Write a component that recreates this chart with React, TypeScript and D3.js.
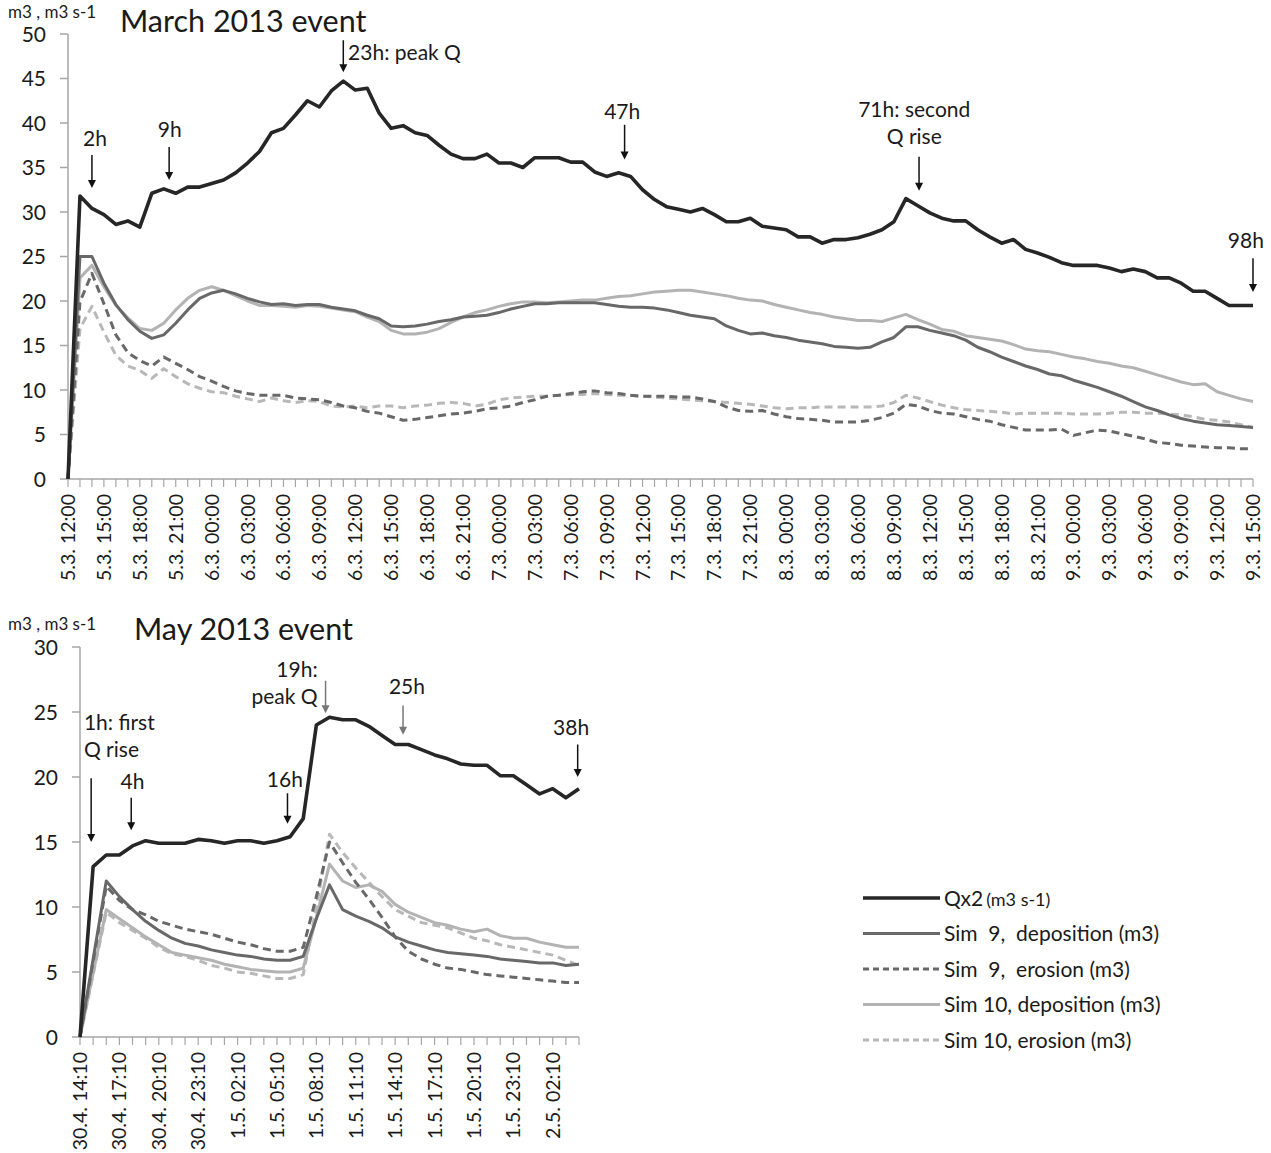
import * as d3 from "d3";

// ---- March 2013 event (hourly, 5.3. 12:00 -> 9.3. 15:00) ----
const marchLabels = [
  "5.3. 12:00", "5.3. 15:00", "5.3. 18:00", "5.3. 21:00",
  "6.3. 00:00", "6.3. 03:00", "6.3. 06:00", "6.3. 09:00", "6.3. 12:00", "6.3. 15:00", "6.3. 18:00", "6.3. 21:00",
  "7.3. 00:00", "7.3. 03:00", "7.3. 06:00", "7.3. 09:00", "7.3. 12:00", "7.3. 15:00", "7.3. 18:00", "7.3. 21:00",
  "8.3. 00:00", "8.3. 03:00", "8.3. 06:00", "8.3. 09:00", "8.3. 12:00", "8.3. 15:00", "8.3. 18:00", "8.3. 21:00",
  "9.3. 00:00", "9.3. 03:00", "9.3. 06:00", "9.3. 09:00", "9.3. 12:00", "9.3. 15:00",
];

const marchQ = [
  0, 31.8, 30.4, 29.7, 28.6, 29.0, 28.3, 32.1, 32.6, 32.1,
  32.8, 32.8, 33.2, 33.6, 34.4, 35.5, 36.8, 38.9, 39.4, 40.9,
  42.5, 41.8, 43.6, 44.7, 43.7, 43.9, 41.1, 39.4, 39.7, 38.9,
  38.6, 37.5, 36.5, 36.0, 36.0, 36.5, 35.5, 35.5, 35.0, 36.1,
  36.1, 36.1, 35.6, 35.6, 34.5, 34.0, 34.4, 34.0, 32.5, 31.4,
  30.6, 30.3, 30.0, 30.4, 29.7, 28.9, 28.9, 29.3, 28.4, 28.2,
  28.0, 27.2, 27.2, 26.5, 26.9, 26.9, 27.1, 27.5, 28.0, 28.9,
  31.5, 30.7, 29.9, 29.3, 29.0, 29.0, 28.0, 27.2, 26.5, 26.9,
  25.8, 25.4, 24.9, 24.3, 24.0, 24.0, 24.0, 23.7, 23.3, 23.6,
  23.3, 22.6, 22.6, 22.0, 21.1, 21.1, 20.3, 19.5, 19.5, 19.5,
];

const marchSim9Dep = [
  0, 25, 25, 22, 19.6, 17.9, 16.6, 15.8, 16.2, 17.5,
  19.0, 20.3, 20.9, 21.2, 20.8, 20.3, 19.9, 19.6, 19.7, 19.5,
  19.6, 19.6, 19.3, 19.1, 18.9, 18.4, 18.0, 17.2, 17.1, 17.2,
  17.4, 17.7, 17.9, 18.2, 18.3, 18.4, 18.7, 19.1, 19.4, 19.7,
  19.7, 19.8, 19.8, 19.8, 19.8, 19.6, 19.4, 19.3, 19.3, 19.2,
  19.0, 18.7, 18.4, 18.2, 18.0, 17.2, 16.7, 16.3, 16.4, 16.1,
  15.9, 15.6, 15.4, 15.2, 14.9, 14.8, 14.7, 14.8, 15.4, 15.9,
  17.1, 17.1, 16.7, 16.4, 16.1, 15.6, 14.8, 14.3, 13.7, 13.2,
  12.7, 12.3, 11.8, 11.6, 11.1, 10.7, 10.3, 9.8, 9.3, 8.7,
  8.1, 7.7, 7.2, 6.8, 6.5, 6.3, 6.1, 6.0, 5.9, 5.8,
];

const marchSim9Ero = [
  0, 19.9, 23.1, 19.7, 16.2, 14.2, 13.3, 12.7, 13.7, 13.0,
  12.3, 11.5, 11.0, 10.4, 9.9, 9.6, 9.4, 9.4, 9.4, 9.1,
  9.0, 8.9, 8.6, 8.2, 8.0, 7.6, 7.4, 7.0, 6.6, 6.7,
  6.9, 7.1, 7.3, 7.4, 7.6, 7.9, 8.0, 8.2, 8.6, 8.9,
  9.3, 9.4, 9.6, 9.8, 9.9, 9.7, 9.6, 9.4, 9.3, 9.3,
  9.3, 9.2, 9.2, 9.0, 8.7, 8.1, 7.7, 7.6, 7.7, 7.3,
  7.0, 6.8, 6.7, 6.6, 6.4, 6.4, 6.4, 6.6, 6.9, 7.4,
  8.4, 8.2, 7.7, 7.4, 7.3, 7.0, 6.7, 6.5, 6.1, 5.8,
  5.5, 5.5, 5.5, 5.6, 4.9, 5.2, 5.5, 5.4, 5.1, 4.8,
  4.5, 4.1, 4.0, 3.8, 3.7, 3.6, 3.5, 3.5, 3.4, 3.4,
];

const marchSim10Dep = [
  0, 22.6, 24.0, 21.6, 19.5, 18.1, 16.9, 16.7, 17.5, 19.0,
  20.3, 21.2, 21.6, 21.2, 20.6, 20.0, 19.5, 19.5, 19.4, 19.3,
  19.5, 19.4, 19.2, 19.0, 18.8, 18.2, 17.7, 16.7, 16.3, 16.3,
  16.5, 16.9, 17.6, 18.2, 18.7, 19.0, 19.4, 19.7, 19.9, 19.9,
  19.8, 19.9, 20.0, 20.1, 20.1, 20.3, 20.5, 20.6, 20.8, 21.0,
  21.1, 21.2, 21.2, 21.0, 20.8, 20.6, 20.3, 20.1, 20.0, 19.6,
  19.3, 19.0, 18.7, 18.5, 18.2, 18.0, 17.8, 17.8, 17.7, 18.1,
  18.5, 17.9, 17.4, 16.8, 16.6, 16.1, 15.9, 15.7, 15.5, 15.1,
  14.6, 14.4, 14.3, 14.0, 13.7, 13.5, 13.2, 13.0, 12.7, 12.5,
  12.1, 11.7, 11.3, 10.9, 10.6, 10.7, 9.8, 9.4, 9.0, 8.7,
];

const marchSim10Ero = [
  0, 16.9, 19.4, 16.5, 13.9, 12.7, 12.2, 11.3, 12.4, 11.5,
  10.7, 10.2, 9.8, 9.7, 9.3, 9.0, 8.7, 9.1, 8.8, 8.6,
  8.8, 8.7, 8.2, 8.1, 8.2, 8.0, 8.2, 8.2, 8.0, 8.2,
  8.3, 8.5, 8.6, 8.5, 8.2, 8.4, 8.9, 9.1, 9.2, 9.3,
  9.3, 9.4, 9.5, 9.5, 9.6, 9.5, 9.4, 9.4, 9.3, 9.2,
  9.1, 9.0, 8.9, 8.8, 8.7, 8.6, 8.5, 8.4, 8.2, 8.0,
  7.9, 8.0, 8.0, 8.1, 8.1, 8.1, 8.1, 8.1, 8.2, 8.6,
  9.4, 9.1, 8.7, 8.3, 8.0, 7.8, 7.7, 7.6, 7.5, 7.3,
  7.4, 7.4, 7.4, 7.4, 7.3, 7.3, 7.3, 7.4, 7.5, 7.5,
  7.4, 7.4, 7.3, 7.2, 7.0, 6.7, 6.6, 6.4, 6.1, 5.8,
];

// ---- May 2013 event (hourly, 30.4. 14:10 -> 2.5. 04:10) ----
const mayLabels = [
  "30.4. 14:10", "30.4. 17:10", "30.4. 20:10", "30.4. 23:10",
  "1.5. 02:10", "1.5. 05:10", "1.5. 08:10", "1.5. 11:10", "1.5. 14:10",
  "1.5. 17:10", "1.5. 20:10", "1.5. 23:10", "2.5. 02:10",
];

const mayQ = [
  0, 13.1, 14.0, 14.0, 14.7, 15.1, 14.9, 14.9, 14.9, 15.2,
  15.1, 14.9, 15.1, 15.1, 14.9, 15.1, 15.4, 16.8, 24.0, 24.6,
  24.4, 24.4, 23.9, 23.2, 22.5, 22.5, 22.1, 21.7, 21.4, 21.0,
  20.9, 20.9, 20.1, 20.1, 19.4, 18.7, 19.1, 18.4, 19.1,
];

const maySim9Dep = [
  0, 6.0, 12.0, 10.8, 9.8, 8.9, 8.2, 7.6, 7.2, 7.0,
  6.7, 6.5, 6.3, 6.2, 6.0, 5.9, 5.9, 6.2, 9.1, 11.7,
  9.8, 9.3, 8.9, 8.4, 7.7, 7.3, 7.0, 6.7, 6.5, 6.4,
  6.3, 6.2, 6.0, 5.9, 5.8, 5.7, 5.7, 5.5, 5.6,
];

const maySim9Ero = [
  0, 5.8, 11.6, 10.5, 9.8, 9.4, 8.9, 8.6, 8.3, 8.1,
  7.9, 7.6, 7.3, 7.1, 6.8, 6.6, 6.6, 6.9, 10.8, 15.0,
  13.4, 11.9, 10.6, 9.2, 7.7, 6.6, 6.0, 5.6, 5.3, 5.2,
  5.0, 4.8, 4.7, 4.6, 4.5, 4.4, 4.3, 4.2, 4.2,
];

const maySim10Dep = [
  0, 4.9, 9.8, 9.1, 8.4, 7.7, 7.1, 6.5, 6.3, 6.1,
  5.9, 5.6, 5.4, 5.2, 5.1, 5.0, 5.0, 5.3, 9.2, 13.3,
  12.0, 11.5, 11.7, 11.2, 10.2, 9.6, 9.2, 8.8, 8.6, 8.3,
  8.1, 8.3, 7.8, 7.6, 7.6, 7.3, 7.1, 6.9, 6.9,
];

const maySim10Ero = [
  0, 4.8, 9.6, 8.8, 8.2, 7.6, 6.9, 6.4, 6.2, 5.9,
  5.5, 5.3, 5.0, 4.9, 4.7, 4.5, 4.5, 4.8, 10.0, 15.6,
  14.2, 13.0, 11.9, 10.8, 9.8, 9.3, 8.8, 8.6, 8.4, 8.0,
  7.6, 7.4, 7.1, 6.9, 6.7, 6.5, 6.3, 5.9, 5.5,
];

// annotations: arrow at index `at`, from value `top` down to `tip`; text anchored at (tx, ty)
const marchNotes = [
  { lines: ["2h"], tx: 2.26, ty: 37.4, at: 2, top: 36.4, tip: 32.7, anchor: "middle", color: "#111" },
  { lines: ["9h"], tx: 8.5, ty: 38.4, at: 8.45, top: 37.3, tip: 33.6, anchor: "middle", color: "#111" },
  { lines: ["23h: peak Q"], tx: 23.4, ty: 47.1, at: 23, top: 49.3, tip: 45.7, anchor: "start", color: "#111" },
  { lines: ["47h"], tx: 46.3, ty: 40.4, at: 46.5, top: 39.8, tip: 35.9, anchor: "middle", color: "#111" },
  { lines: ["71h: second", "Q rise"], tx: 70.7, ty: 40.7, at: 71.1, top: 36.2, tip: 32.4, anchor: "middle", color: "#111" },
  { lines: ["98h"], tx: 98.4, ty: 26.0, at: 99, top: 24.8, tip: 21.0, anchor: "middle", color: "#111" },
];

const mayNotes = [
  { lines: ["1h: first", "Q rise"], tx: 0.3, ty: 23.6, at: 0.85, top: 19.9, tip: 15.0, anchor: "start", color: "#111" },
  { lines: ["4h"], tx: 4.0, ty: 19.1, at: 3.9, top: 18.4, tip: 15.9, anchor: "middle", color: "#111" },
  { lines: ["16h"], tx: 15.6, ty: 19.25, at: 15.8, top: 18.75, tip: 16.4, anchor: "middle", color: "#111" },
  { lines: ["19h:", "peak Q"], tx: 18.1, ty: 27.7, at: 18.7, top: 27.4, tip: 24.9, anchor: "end", color: "#777" },
  { lines: ["25h"], tx: 24.9, ty: 26.4, at: 24.6, top: 25.5, tip: 23.25, anchor: "middle", color: "#777" },
  { lines: ["38h"], tx: 37.4, ty: 23.25, at: 37.9, top: 22.5, tip: 20.0, anchor: "middle", color: "#111" },
];

const legendItems = [
  { label: "Qx2", unit: "(m3 s-1)", key: "q" },
  { label: "Sim\u00a0 9,\u00a0 deposition (m3)", unit: "", key: "s9d" },
  { label: "Sim\u00a0 9,\u00a0 erosion (m3)", unit: "", key: "s9e" },
  { label: "Sim 10, deposition (m3)", unit: "", key: "s10d" },
  { label: "Sim 10, erosion (m3)", unit: "", key: "s10e" },
];

const FONT = "Lato, 'Open Sans', 'DejaVu Sans', sans-serif";
const TXT = "#1a1a1a";
const AXIS = "#a6a6a6";

const styles: Record<string, { stroke: string; width: number; dash?: string }> = {
  q: { stroke: "#262626", width: 3.6 },
  s9d: { stroke: "#686868", width: 3 },
  s9e: { stroke: "#686868", width: 3, dash: "8,5" },
  s10d: { stroke: "#b3b3b3", width: 3 },
  s10e: { stroke: "#b8b8b8", width: 3, dash: "8,5" },
};

function Panel(props: {
  left: number; right: number; top: number; bottom: number;
  n: number; yMax: number; labels: string[];
  series: { key: string; values: number[] }[];
  title: string; titleX: number; unitY: number; titleY: number;
  notes: typeof marchNotes;
}) {
  const { left, right, top, bottom, n, yMax, labels, series, notes } = props;
  const x = d3.scaleLinear().domain([0, n - 1]).range([left, right]);
  const y = d3.scaleLinear().domain([0, yMax]).range([bottom, top]);
  const line = d3.line<number>().x((_, i) => x(i)).y((d) => y(d));
  const yTicks = d3.range(0, yMax + 1, 5);
  const xTicks = d3.range(0, n);

  // draw order: light series first, Q on top
  const order = ["s10e", "s10d", "s9e", "s9d", "q"];
  const sorted = [...series].sort((a, b) => order.indexOf(a.key) - order.indexOf(b.key));

  return (
    <g>
      <text x={8} y={props.unitY} fontSize={17} fill={TXT} fontFamily={FONT}>m3 , m3 s-1</text>
      <text x={props.titleX} y={props.titleY} fontSize={30.5} fill={TXT} fontFamily={FONT}>{props.title}</text>

      {/* y axis */}
      <line x1={left} x2={left} y1={top} y2={bottom} stroke={AXIS} strokeWidth={1.5} />
      {yTicks.map((t) => (
        <g key={t}>
          <line x1={left - 8} x2={left} y1={y(t)} y2={y(t)} stroke={AXIS} strokeWidth={1.5} />
          <text x={left - 22} y={y(t)} dy="0.36em" textAnchor="end" fontSize={21} fill={TXT} fontFamily={FONT}>{t}</text>
        </g>
      ))}

      {/* x axis */}
      <line x1={left} x2={right} y1={bottom} y2={bottom} stroke={AXIS} strokeWidth={1.5} />
      {xTicks.map((t) => (
        <line key={t} x1={x(t)} x2={x(t)} y1={bottom} y2={bottom + 8} stroke={AXIS} strokeWidth={1.2} />
      ))}
      {labels.map((lab, i) => (
        <text key={lab} transform={`translate(${x(i * 3)},${bottom + 15}) rotate(-90)`} dy="0.36em"
          textAnchor="end" fontSize={19.5} fill={TXT} fontFamily={FONT}>{lab}</text>
      ))}

      {sorted.map((s) => {
        const st = styles[s.key];
        return (
          <path key={s.key} d={line(s.values) || ""} fill="none" stroke={st.stroke} strokeWidth={st.width}
            strokeDasharray={st.dash} strokeLinejoin="round" />
        );
      })}

      {notes.map((a, i) => {
        const ax = x(a.at);
        const y0 = y(a.top);
        const y1 = y(a.tip);
        return (
          <g key={i}>
            <line x1={ax} x2={ax} y1={y0} y2={y1 - 6} stroke={a.color} strokeWidth={1.5} />
            <path d={`M${ax - 4},${y1 - 8} L${ax + 4},${y1 - 8} L${ax},${y1} Z`} fill={a.color} />
            {a.lines.map((l, j) => (
              <text key={j} x={x(a.tx)} y={y(a.ty) + j * 27} textAnchor={a.anchor as any} fontSize={21}
                fill={TXT} fontFamily={FONT}>{l}</text>
            ))}
          </g>
        );
      })}
    </g>
  );
}

export default function App() {
  return (
    <div style={{ position: "absolute", left: 0, top: 0 }}>
      <svg width={1271} height={1153} style={{ display: "block", background: "#fff" }}>
        <rect width={1271} height={1153} fill="#fff" />
        <Panel left={68} right={1253} top={34} bottom={479} n={100} yMax={50} labels={marchLabels}
          series={[
            { key: "q", values: marchQ },
            { key: "s9d", values: marchSim9Dep },
            { key: "s9e", values: marchSim9Ero },
            { key: "s10d", values: marchSim10Dep },
            { key: "s10e", values: marchSim10Ero },
          ]}
          title="March 2013 event" titleX={120} titleY={32} unitY={18} notes={marchNotes} />
        <Panel left={80} right={579} top={647} bottom={1037} n={39} yMax={30} labels={mayLabels}
          series={[
            { key: "q", values: mayQ },
            { key: "s9d", values: maySim9Dep },
            { key: "s9e", values: maySim9Ero },
            { key: "s10d", values: maySim10Dep },
            { key: "s10e", values: maySim10Ero },
          ]}
          title="May 2013 event" titleX={134} titleY={640} unitY={630} notes={mayNotes} />

        {/* legend */}
        {legendItems.map((it, i) => {
          const st = styles[it.key];
          const ly = 898 + i * 35.5;
          return (
            <g key={it.key}>
              <line x1={863} x2={940} y1={ly} y2={ly} stroke={st.stroke} strokeWidth={st.width}
                strokeDasharray={st.dash ? "6,4" : undefined} />
              <text x={944} y={ly} dy="0.36em" fontSize={21} fill={TXT} fontFamily={FONT}>
                {it.label}
                {it.unit && <tspan dx={3} fontSize={18}>{it.unit}</tspan>}
              </text>
            </g>
          );
        })}
      </svg>
    </div>
  );
}
